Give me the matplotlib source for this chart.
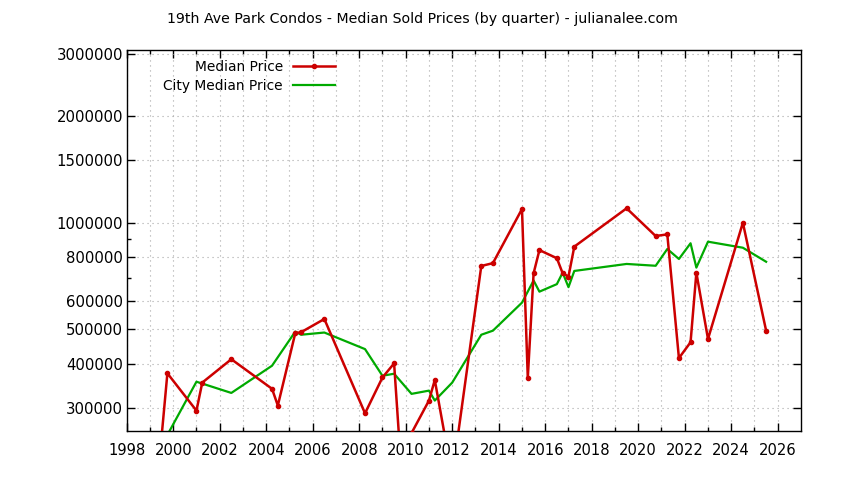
import matplotlib
matplotlib.use("Agg")
import matplotlib.pyplot as plt
from matplotlib.ticker import FixedLocator, FixedFormatter, NullFormatter

plt.rcParams['font.family'] = ['DejaVu Sans']

title = "19th Ave Park Condos - Median Sold Prices (by quarter) - julianalee.com"

red_dates = [1999.5, 1999.75, 2001.0, 2001.25, 2002.5, 2004.25, 2004.5, 2005.25, 2005.5,
             2006.5, 2008.25, 2009.0, 2009.5, 2009.75, 2010.25, 2011.0, 2011.25, 2012.0,
             2013.25, 2013.75, 2015.0, 2015.25, 2015.5, 2015.75, 2016.5, 2016.75, 2017.0,
             2017.25, 2019.5, 2020.75, 2021.25, 2021.75, 2022.25, 2022.5, 2023.0, 2024.5,
             2025.5]
red_values = [249000, 376000, 295000, 354000, 412000, 340000, 305000, 488000, 491000,
              535000, 290000, 366000, 401000, 229000, 255000, 315000, 360000, 192000,
              755000, 769000, 1093000, 365000, 720000, 837000, 794000, 720000, 705000,
              856000, 1098000, 917000, 927000, 415000, 460000, 723000, 470000, 1000000,
              496000]

city_dates = [1999.75, 2001.0, 2002.5, 2004.25, 2005.25, 2005.5, 2006.5, 2008.25, 2009.0,
              2009.5, 2010.25, 2011.0, 2011.25, 2012.0, 2013.25, 2013.75, 2015.0, 2015.5,
              2015.75, 2016.5, 2016.75, 2017.0, 2017.25, 2019.5, 2020.75, 2021.25, 2021.75,
              2022.25, 2022.5, 2023.0, 2024.5, 2025.5]
city_values = [252000, 356000, 331000, 395000, 493000, 483000, 490000, 440000, 370000,
               375000, 329000, 336000, 315000, 354000, 483000, 496000, 595000, 687000,
               639000, 671000, 723000, 658000, 731000, 765000, 756000, 843000, 790000,
               875000, 747000, 884000, 850000, 776000]

ytick_values = [300000, 400000, 500000, 600000, 800000, 1000000, 1500000, 2000000, 3000000]
ytick_labels = [str(v) for v in ytick_values]
yminor_values = [700000, 900000]
xtick_values = list(range(1998, 2027, 2))
xminor_values = list(range(1999, 2027, 2))

RED = '#cc0000'
GREEN = '#00aa00'

fig = plt.figure(figsize=(8.44, 4.80), dpi=100)
W, H = 844, 480
left, right, top, bottom = 126.7, 801, 50, 430.7
ax = fig.add_axes([left / W, 1 - bottom / H, (right - left) / W, (bottom - top) / H])

ax.set_yscale('log')
ax.set_xlim(1998, 2027)
ax.set_ylim(259000, 3070000)

ax.plot(red_dates, red_values, color=RED, lw=1.8, marker='o', ms=3.0,
        label='Median Price', zorder=3)
ax.plot(city_dates, city_values, color=GREEN, lw=1.6, label='City Median Price', zorder=2)

ax.yaxis.set_major_locator(FixedLocator(ytick_values))
ax.yaxis.set_major_formatter(FixedFormatter(ytick_labels))
ax.yaxis.set_minor_locator(FixedLocator(yminor_values))
ax.yaxis.set_minor_formatter(NullFormatter())
ax.xaxis.set_major_locator(FixedLocator(xtick_values))
ax.xaxis.set_minor_locator(FixedLocator(xminor_values))

ax.tick_params(which='both', direction='in', top=True, right=True, width=1.0, color='black')
ax.tick_params(which='major', length=6)
ax.tick_params(which='minor', length=3)
ax.tick_params(axis='x', which='major', labelsize=10.6, pad=9.2)
ax.tick_params(axis='y', which='major', labelsize=10.7, pad=2.6)

grid_kw = dict(color='#a8a8a8', linestyle=(0, (1, 3.5)), linewidth=0.8)
ax.grid(True, which='major', axis='both', **grid_kw)
ax.grid(True, which='minor', axis='x', **grid_kw)
ax.set_axisbelow(True)

for s in ax.spines.values():
    s.set_linewidth(1.0)
    s.set_color('black')

leg = ax.legend(loc='upper right', bbox_to_anchor=(0.309, 0.975), markerfirst=False,
                frameon=False, fontsize=9.9, handlelength=3.05, handletextpad=0.73,
                labelspacing=0.38, borderpad=0, borderaxespad=0)

fig.text(0.5, 1 - 19 / H, title, ha='center', va='center', fontsize=10.2)

fig.savefig('out.png', dpi=100)
